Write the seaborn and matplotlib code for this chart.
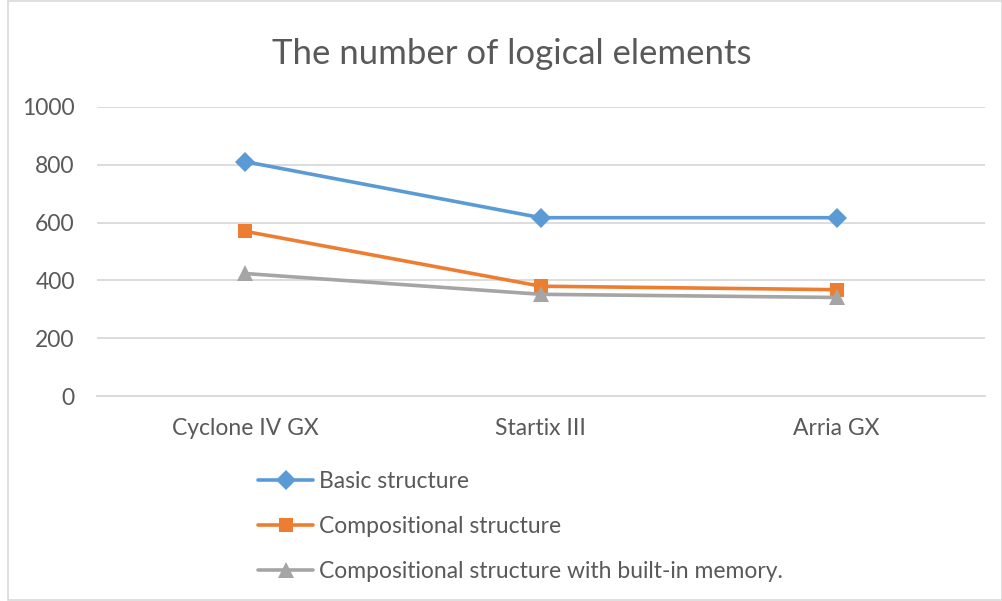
import seaborn as sns
import matplotlib.pyplot as plt
from matplotlib.patches import Rectangle
import pandas as pd

# values
chips = ["Cyclone IV GX", "Startix III", "Arria GX"]
basic = [811, 617, 617]
compositional = [570, 380, 368]
with_memory = [424, 352, 341]

series_names = [
    "Basic structure",
    "Compositional structure",
    "Compositional structure with built-in memory.",
]

df = pd.DataFrame({
    "chip": chips * 3,
    "elements": basic + compositional + with_memory,
    "series": [s for s in series_names for _ in chips],
})

sns.set_theme(style="white")
plt.rcParams["font.family"] = ["Lato", "DejaVu Sans"]

colors = dict(zip(series_names, ["#5B9BD5", "#ED7D31", "#A5A5A5"]))
marks = dict(zip(series_names, ["D", "s", "^"]))
sizes = {"D": 10, "s": 10, "^": 12}

fig = plt.figure(figsize=(10.03, 6.01), dpi=100)
ax = fig.add_axes([0.0967, 0.341, 0.885, 0.481])

sns.lineplot(
    data=df, x="chip", y="elements", hue="series", style="series",
    palette=colors, markers=marks, dashes=False, linewidth=2.6,
    markersize=10, markeredgewidth=0, sort=False, ax=ax,
)

ax.set_xlim(-0.5, 2.5)
ax.set_ylim(0, 1000)
ax.set_yticks(range(0, 1001, 200))
ax.grid(axis="y", color="#D9D9D9", linewidth=1.3)
ax.set_axisbelow(True)
for side in ["top", "right", "left"]:
    ax.spines[side].set_visible(False)
ax.spines["bottom"].set_color("#D9D9D9")
ax.spines["bottom"].set_linewidth(1.3)
ax.tick_params(axis="both", length=0, labelsize=16.5, colors="#595959")
ax.tick_params(axis="x", pad=16)
ax.tick_params(axis="y", pad=16)
ax.set_xlabel("")
ax.set_ylabel("")

fig.suptitle("The number of logical elements", x=0.51, y=0.937,
             fontsize=25, color="#595959")

handles, labels = ax.get_legend_handles_labels()
for h in list(ax.lines) + list(handles):
    m = h.get_marker()
    if m in sizes:
        h.set_markersize(sizes[m])
leg = fig.legend(handles, labels, loc="upper left",
                 bbox_to_anchor=(0.237, 0.25), frameon=False,
                 fontsize=16.5, labelcolor="#595959", handlelength=2.4,
                 handletextpad=0.25, labelspacing=1.05)
if ax.get_legend():
    ax.get_legend().remove()

fig.patches.append(Rectangle((8 / 1003, 0.001), 1 - 9 / 1003, 0.997,
                             transform=fig.transFigure, fill=False,
                             edgecolor="#D9D9D9", linewidth=1.2))

fig.savefig("out.png", dpi=100, facecolor="white")
